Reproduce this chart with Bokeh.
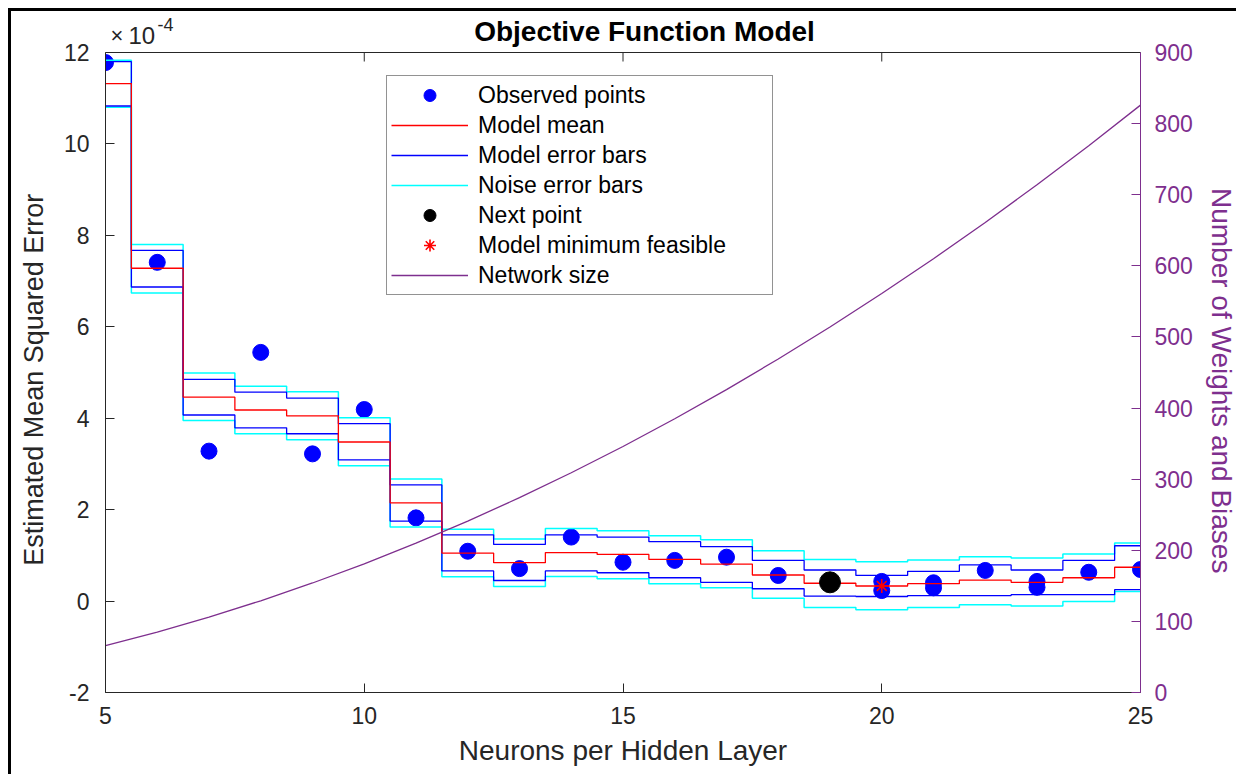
from bokeh.plotting import figure
from bokeh.models import (Range1d, LinearAxis, SingleIntervalTicker, Label,
                          Legend, LegendItem, Span)
from bokeh.embed import file_html
from bokeh.resources import INLINE

# ---------------- data (MSE values in units of 1e-4) ----------------
n_obs = [5, 6, 7, 8, 9, 10, 11, 12, 13, 14, 15, 16, 17, 18, 20, 20, 21, 21, 22, 23, 23, 24, 25]
mse_obs = [11.78, 7.41, 3.28, 5.44, 3.22, 4.19, 1.82, 1.09, 0.71, 1.40, 0.85, 0.89, 0.96,
           0.56, 0.43, 0.23, 0.40, 0.29, 0.67, 0.43, 0.30, 0.63, 0.69]

n_grid = [5, 6, 7, 8, 9, 10, 11, 12, 13, 14, 15, 16, 17, 18, 19, 20, 21, 22, 23, 24, 25]
model_mean = [11.32, 7.28, 4.46, 4.18, 4.05, 3.48, 2.15, 1.05, 0.84, 1.06, 1.02, 0.91, 0.81,
              0.57, 0.39, 0.33, 0.38, 0.46, 0.41, 0.51, 0.74]
model_hi = [11.80, 7.67, 4.85, 4.57, 4.44, 3.88, 2.54, 1.45, 1.24, 1.45, 1.40, 1.30, 1.19,
            0.89, 0.68, 0.56, 0.65, 0.79, 0.68, 0.89, 1.21]
model_lo = [10.83, 6.87, 4.07, 3.79, 3.66, 3.09, 1.75, 0.66, 0.45, 0.66, 0.62, 0.51, 0.41,
            0.27, 0.11, 0.10, 0.12, 0.12, 0.14, 0.14, 0.25]
noise_hi = [11.83, 7.80, 4.99, 4.70, 4.58, 4.01, 2.67, 1.57, 1.36, 1.59, 1.54, 1.43, 1.34,
            1.10, 0.91, 0.86, 0.90, 0.97, 0.94, 1.03, 1.27]
noise_lo = [10.80, 6.74, 3.95, 3.66, 3.53, 2.96, 1.62, 0.53, 0.32, 0.54, 0.49, 0.38, 0.29,
            0.06, -0.14, -0.19, -0.14, -0.08, -0.11, -0.01, 0.21]

next_n = [19]
next_mse = [0.41]
min_n = [20]
min_mse = [0.33]

network_size = [66, 85, 106, 129, 154, 181, 210, 241, 274, 309, 346, 385, 426, 469, 514,
                561, 610, 661, 714, 769, 826]

x_limits = (5, 25)
y_left_limits = (-2, 12)
y_right_limits = (0, 900)
x_ticks = [5, 10, 15, 20, 25]
y_left_interval = 2
y_right_interval = 100

# ---------------- layout ----------------
FONT = "Liberation Sans"
AX = "#262626"
PURPLE = "#7E2F8E"
NB = "\u00a0"

AXES_H = 640          # pixel height of the axes box
HEAD = 38             # extra pixels of frame above the axes box (title area)
FRAME_H = AXES_H + HEAD
left_span = y_left_limits[1] - y_left_limits[0]
right_span = y_right_limits[1] - y_right_limits[0]
y_left_end = y_left_limits[1] + HEAD * left_span / AXES_H
y_right_end = y_right_limits[1] + HEAD * right_span / AXES_H

p = figure(frame_width=1035, frame_height=FRAME_H,
           x_range=Range1d(*x_limits), y_range=Range1d(y_left_limits[0], y_left_end),
           min_border_left=94, min_border_top=3, min_border_right=130, min_border_bottom=110,
           output_backend="svg", toolbar_location=None,
           background_fill_color="white", border_fill_color="white")
p.outline_line_color = None
p.styles = {"margin-left": "8px", "margin-top": "8px",
            "border-left": "3px solid black", "border-top": "3px solid black",
            "border-right": "3px solid black", "border-bottom": "3px solid black"}
p.xgrid.visible = False
p.ygrid.visible = False

p.extra_y_ranges = {"right": Range1d(y_right_limits[0], y_right_end)}

def style_axis(ax, color=AX):
    ax.axis_line_color = color
    ax.axis_line_width = 1
    ax.major_tick_line_color = color
    ax.major_tick_in = 9
    ax.major_tick_out = 0
    ax.minor_tick_line_color = None
    ax.major_label_text_font = FONT
    ax.major_label_text_font_size = "23px"
    ax.major_label_text_color = color
    ax.axis_label_text_font = FONT
    ax.axis_label_text_font_style = "normal"
    ax.axis_label_text_color = color

# bottom axis
xa = p.xaxis[0]
xa.ticker = SingleIntervalTicker(interval=5)
style_axis(xa)
xa.axis_label = "Neurons per Hidden Layer"
xa.axis_label_text_font_size = "28px"
xa.major_label_standoff = 10
xa.axis_label_standoff = 8

# left axis (label padded so it centres on the axes box, not on the title area)
ya = p.yaxis[0]
ya.ticker = SingleIntervalTicker(interval=y_left_interval)
ya.bounds = y_left_limits
style_axis(ya)
ya.major_label_overrides = {-2: "-2"}
ya.axis_label = "Estimated Mean Squared Error" + NB * 7
ya.axis_label_text_font_size = "27px"
ya.major_label_standoff = 12
ya.axis_label_standoff = 12

# right axis (label padded at its start so it centres on the axes box)
ra = LinearAxis(y_range_name="right", ticker=SingleIntervalTicker(interval=y_right_interval),
                bounds=y_right_limits)
style_axis(ra, PURPLE)
ra.axis_label = NB * 7 + "Number of Weights and Biases"
ra.axis_label_text_font_size = "28px"
ra.major_label_standoff = 10
ra.axis_label_standoff = 10
p.add_layout(ra, "right")

# top edge of the axes box with inward ticks
p.add_layout(Span(location=y_left_limits[1], dimension="width", line_color=AX, line_width=1))
tick_len = 9 * (y_left_end - y_left_limits[0]) / FRAME_H
p.segment(x0=x_ticks, y0=[y_left_limits[1]] * len(x_ticks), x1=x_ticks,
          y1=[y_left_limits[1] - tick_len] * len(x_ticks), line_color=AX, line_width=1)

# ---------------- glyphs ----------------
r_obs = p.scatter(n_obs, mse_obs, marker="circle", size=16, color="#0000FF")

r_nerr = p.step(n_grid, noise_hi, mode="center", color="#00FFFF", line_width=1.5)
p.step(n_grid, noise_lo, mode="center", color="#00FFFF", line_width=1.5)
r_merr = p.step(n_grid, model_hi, mode="center", color="#0000FF", line_width=1.3)
p.step(n_grid, model_lo, mode="center", color="#0000FF", line_width=1.3)
r_mean = p.step(n_grid, model_mean, mode="center", color="#FF0000", line_width=1.3)

r_net = p.line(n_grid, network_size, y_range_name="right", color=PURPLE, line_width=1.3)

r_next = p.scatter(next_n, next_mse, marker="circle", size=21, color="black")
r_min = p.scatter(min_n, min_mse, marker="asterisk", size=14, line_color="#FF0000",
                  line_width=1.6)

legend = Legend(items=[
    LegendItem(label="Observed points", renderers=[r_obs]),
    LegendItem(label="Model mean", renderers=[r_mean]),
    LegendItem(label="Model error bars", renderers=[r_merr]),
    LegendItem(label="Noise error bars", renderers=[r_nerr]),
    LegendItem(label="Next point", renderers=[r_next]),
    LegendItem(label="Model minimum feasible", renderers=[r_min]),
    LegendItem(label="Network size", renderers=[r_net]),
], location=(281, 397))
legend.glyph_width = 77
legend.glyph_height = 30
legend.label_height = 30
legend.spacing = 0
legend.padding = 4
legend.margin = 0
legend.label_standoff = 10
legend.label_width = 290
legend.label_text_font = FONT
legend.label_text_font_size = "23px"
legend.label_text_color = "black"
legend.border_line_color = AX
legend.border_line_width = 1
legend.background_fill_color = "white"
legend.background_fill_alpha = 1
p.add_layout(legend, "center")

# title & exponent (inside the head area of the frame)
p.add_layout(Label(x=539, y=661, x_units="screen", y_units="screen",
                   text="Objective Function Model", text_align="center",
                   text_baseline="alphabetic", text_font=FONT, text_font_style="bold",
                   text_font_size="28px", text_color="black"))
p.add_layout(Label(x=5, y=657, x_units="screen", y_units="screen", text="×",
                   text_align="left", text_baseline="alphabetic", text_font=FONT,
                   text_font_size="22px", text_color=AX))
p.add_layout(Label(x=23, y=657, x_units="screen", y_units="screen", text="10",
                   text_align="left", text_baseline="alphabetic", text_font=FONT,
                   text_font_size="24px", text_color=AX))
p.add_layout(Label(x=52, y=668, x_units="screen", y_units="screen", text="-4",
                   text_align="left", text_baseline="alphabetic", text_font=FONT,
                   text_font_size="18px", text_color=AX))

open("out.html", "w").write(file_html(p, INLINE))
